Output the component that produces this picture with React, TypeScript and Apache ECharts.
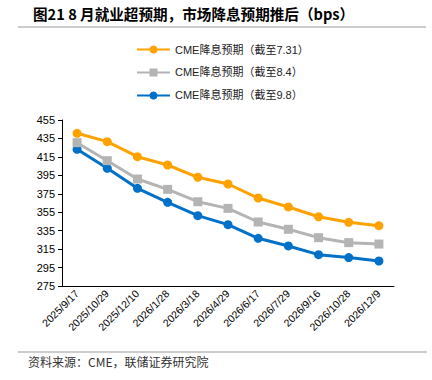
import React, { useEffect, useRef } from "react";
import * as echarts from "echarts";

const categories = ["2025/9/17","2025/10/29","2025/12/10","2026/1/28","2026/3/18","2026/4/29","2026/6/17","2026/7/29","2026/9/16","2026/10/28","2026/12/9"];
const seriesNames = ["CME降息预期（截至7.31）","CME降息预期（截至8.4）","CME降息预期（截至9.8）"];
const s731 = [440.6, 431.5, 415.2, 406.2, 392.9, 385.6, 370.4, 360.7, 350.1, 344.1, 340.4];
const s84 = [430.4, 410.9, 391.0, 379.8, 366.4, 359.2, 344.4, 336.5, 327.4, 322.0, 320.5];
const s98 = [423.2, 402.6, 380.9, 365.7, 351.3, 341.5, 326.7, 318.4, 309.0, 305.8, 302.1];
const yMin = 275, yMax = 455, yStep = 20;

const FONT = "Liberation Sans, Arial, sans-serif";

export default function App() {
  const ref = useRef<HTMLDivElement>(null);
  useEffect(() => {
    if (!ref.current) return;
    const chart = echarts.init(ref.current, undefined, { renderer: "svg" });
    const colors = ["#FFA200", "#B4B4B4", "#0070C8"];
    const symbols = ["circle", "rect", "circle"];
    const data = [s731, s84, s98];
    chart.setOption({
      animation: false,
      backgroundColor: "#fff",
      textStyle: { fontFamily: FONT },
      graphic: [
        { type: "text", left: 33, top: 6, style: { text: "图21 8 月就业超预期，市场降息预期推后（bps）", font: "bold 14.6px 'Noto Sans CJK SC', sans-serif", fill: "#000" } },
        { type: "line", shape: { x1: 18, y1: 27, x2: 426, y2: 27 }, style: { stroke: "#999", lineWidth: 1 } },
        { type: "line", shape: { x1: 18, y1: 352, x2: 427, y2: 352 }, style: { stroke: "#999", lineWidth: 1 } },
        { type: "text", left: 28, top: 355, style: { text: "资料来源：CME，联储证券研究院", font: "12px 'Noto Sans CJK SC', sans-serif", fill: "#333" } },
      ],
      legend: {
        orient: "vertical",
        left: 131,
        top: 39,
        itemWidth: 33,
        itemHeight: 10,
        itemGap: 12,
        textStyle: { fontSize: 11, color: "#222", fontFamily: "'Liberation Sans', 'Noto Sans CJK SC', sans-serif" },
        data: seriesNames,
      },
      grid: { left: 62, right: 38, top: 120, bottom: 94, containLabel: false },
      xAxis: {
        type: "category",
        data: categories,
        boundaryGap: true,
        axisLine: { lineStyle: { color: "#000", width: 1 } },
        axisTick: { alignWithLabel: true, length: 4, lineStyle: { color: "#000" } },
        axisLabel: { rotate: 45, fontSize: 10.5, color: "#000", margin: 6, interval: 0, fontFamily: FONT },
      },
      yAxis: {
        type: "value",
        min: yMin,
        max: yMax,
        interval: yStep,
        axisLine: { show: true, lineStyle: { color: "#000", width: 1 } },
        axisTick: { show: true, length: 4, lineStyle: { color: "#000" } },
        splitLine: { show: false },
        axisLabel: { fontSize: 11, color: "#000", margin: 7, fontFamily: FONT },
      },
      series: seriesNames.map((n, i) => ({
        name: n,
        type: "line",
        data: data[i],
        symbol: symbols[i],
        symbolSize: 9,
        showAllSymbol: true,
        lineStyle: { color: colors[i], width: 3 },
        itemStyle: { color: colors[i] },
        z: 3 - i,
      })),
    });
    return () => chart.dispose();
  }, []);
  return <div ref={ref} style={{ width: 432, height: 380, position: "absolute", left: 0, top: 0 }} />;
}
